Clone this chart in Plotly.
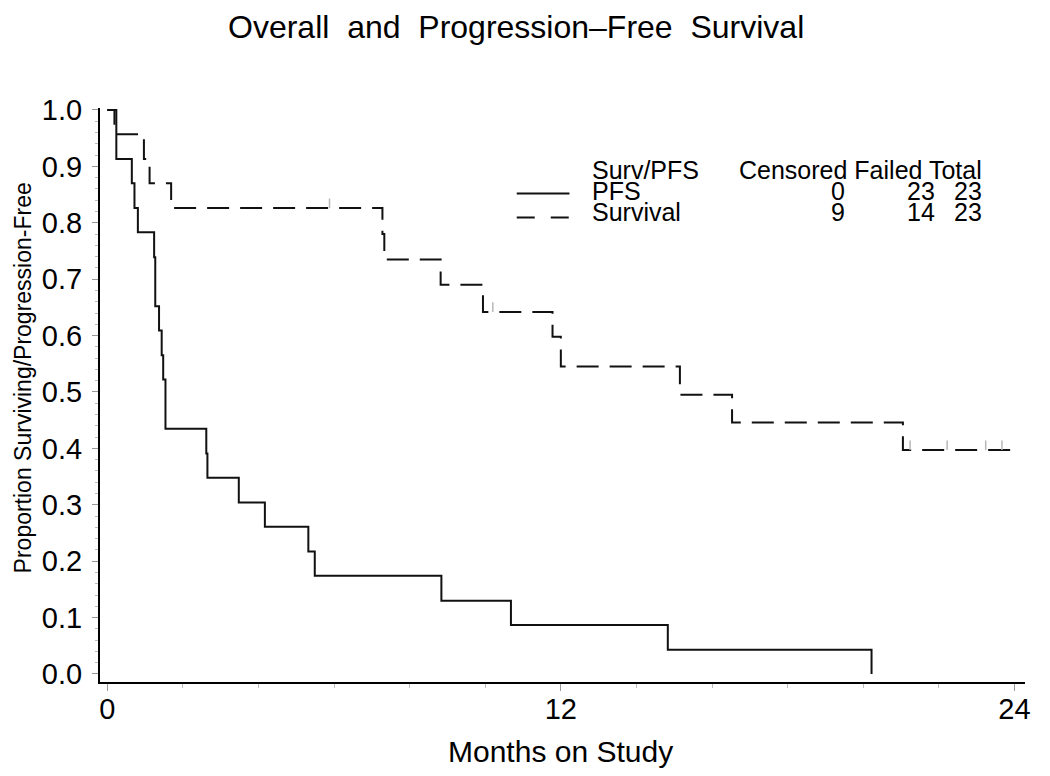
import plotly.graph_objects as go

# ---------------- data ----------------
pfs_time = [0, 0.24, 0.65, 0.72, 0.81, 1.24, 1.27, 1.37, 1.44, 1.48, 1.54,
            2.62, 2.65, 3.48, 4.17, 5.32, 5.49, 8.84, 10.68, 14.83, 20.22]
pfs_surv = [1.0, 0.913, 0.870, 0.826, 0.783, 0.739, 0.652, 0.609, 0.565, 0.522, 0.435,
            0.391, 0.348, 0.304, 0.261, 0.217, 0.174, 0.130, 0.087, 0.043, 0.0]

os_time = [0, 0.19, 0.97, 1.12, 1.69, 7.28, 7.33, 8.82, 9.94, 11.78, 12.0,
           15.15, 16.53, 21.05, 24.0]
os_surv = [1.0, 0.957, 0.913, 0.870, 0.826, 0.780, 0.735, 0.690, 0.642, 0.598, 0.545,
           0.495, 0.446, 0.397, 0.397]

os_cens_time = [5.88, 10.2, 21.24, 22.22, 23.24, 23.67]
os_cens_surv = [0.826, 0.642, 0.397, 0.397, 0.397, 0.397]

legend_groups = ["PFS", "Survival"]
legend_censored = [0, 9]
legend_failed = [23, 14]
legend_total = [23, 23]

x_ticks = [0, 12, 24]
y_ticks = [0.0, 0.1, 0.2, 0.3, 0.4, 0.5, 0.6, 0.7, 0.8, 0.9, 1.0]
y_ticktext = ["%.1f" % v for v in y_ticks]

# ---------------- layout geometry (page pixels) ----------------
OFF = 8                      # page body margin
W, H = 1034, 760             # figure size (fits inside the window)
L, R, T, B = 100, 1030, 108, 682   # plot area in page pixels


def px_x(px):
    return (px - L) / (R - L)


def px_y(py):
    return (B - py) / (B - T)


REG = "Liberation Sans, Arial, Helvetica, sans-serif"
INK = "#111111"

fig = go.Figure()

fig.add_trace(go.Scatter(
    x=pfs_time, y=pfs_surv, mode="lines", line_shape="hv",
    line=dict(color=INK, width=2), name="PFS", showlegend=False,
    hoverinfo="skip"))

fig.add_trace(go.Scatter(
    x=os_time, y=os_surv, mode="lines", line_shape="hv",
    line=dict(color=INK, width=2, dash="22px,11px"), name="Survival",
    showlegend=False, hoverinfo="skip"))

# censor marks: short upward ticks
fig.add_trace(go.Scatter(
    x=os_cens_time, y=os_cens_surv, mode="markers",
    marker=dict(size=1, color="rgba(0,0,0,0)"),
    error_y=dict(type="constant", value=0.017, valueminus=0, symmetric=False,
                 width=0, color="#b8b8b8", thickness=1.5),
    showlegend=False, hoverinfo="skip"))

ann = []
# title
ann.append(dict(text="Overall\u00a0 and\u00a0 Progression\u2013Free\u00a0 Survival",
                x=px_x(518), y=px_y(27), xref="paper", yref="paper",
                showarrow=False, xanchor="center", yanchor="middle",
                font=dict(family=REG, size=32, color="#000")))
# axis titles
ann.append(dict(text="Months on Study", x=px_x(563), y=px_y(751),
                xref="paper", yref="paper", showarrow=False,
                xanchor="center", yanchor="middle",
                font=dict(family=REG, size=30, color="#000")))
ann.append(dict(text="Proportion Surviving/Progression-Free", x=px_x(23), y=px_y(378),
                xref="paper", yref="paper", showarrow=False, textangle=-90,
                xanchor="center", yanchor="middle",
                font=dict(family=REG, size=23, color="#000")))

# legend table
LF = dict(family=REG, size=25, color="#000")
rows_y = [170, 191, 212]
ann.append(dict(text="Surv/PFS", x=px_x(593), y=px_y(rows_y[0]), xref="paper", yref="paper",
                showarrow=False, xanchor="left", yanchor="middle", font=LF))
ann.append(dict(text="Censored Failed Total", x=px_x(989), y=px_y(rows_y[0]),
                xref="paper", yref="paper", showarrow=False, xanchor="right",
                yanchor="middle", font=LF))
for i, g in enumerate(legend_groups):
    yy = px_y(rows_y[i + 1])
    ann.append(dict(text=g, x=px_x(593), y=yy, xref="paper", yref="paper",
                    showarrow=False, xanchor="left", yanchor="middle", font=LF))
    for val, xr in zip([legend_censored[i], legend_failed[i], legend_total[i]],
                       [851, 942, 989]):
        ann.append(dict(text=str(val), x=px_x(xr), y=yy, xref="paper", yref="paper",
                        showarrow=False, xanchor="right", yanchor="middle", font=LF))

shapes = [
    dict(type="line", xref="paper", yref="paper", x0=px_x(519), x1=px_x(572),
         y0=px_y(193.5), y1=px_y(193.5), line=dict(color=INK, width=2)),
    dict(type="line", xref="paper", yref="paper", x0=px_x(519), x1=px_x(572),
         y0=px_y(217.5), y1=px_y(217.5), line=dict(color=INK, width=2, dash="18px,16px")),
]

fig.update_layout(
    width=W, height=H,
    margin=dict(l=L - OFF, r=W - (R - OFF), t=T - OFF, b=H - (B - OFF), pad=0),
    paper_bgcolor="white", plot_bgcolor="white",
    annotations=ann, shapes=shapes, showlegend=False,
    xaxis=dict(range=[-0.192, 24.28], tickvals=x_ticks, ticktext=[str(v) for v in x_ticks],
               ticks="outside", ticklen=7, tickwidth=1, tickcolor="#999",
               minor=dict(tickvals=list(range(0, 25, 2)), ticks="outside", ticklen=4,
                          tickwidth=1, tickcolor="#bbb"),
               showline=True, linecolor="#000", linewidth=2, mirror=False,
               showgrid=False, zeroline=False,
               tickfont=dict(family=REG, size=29, color="#000"),
               ticklabelstandoff=-7),
    yaxis=dict(range=[-0.0142, 1.0035], tickvals=y_ticks, ticktext=y_ticktext,
               ticks="outside", ticklen=6, tickwidth=1, tickcolor="#999",
               minor=dict(dtick=0.02, tick0=0, ticks="outside", ticklen=3.5,
                          tickwidth=1, tickcolor="#bbb"),
               showline=True, linecolor="#000", linewidth=2,
               showgrid=False, zeroline=False,
               tickfont=dict(family=REG, size=29, color="#000"),
               ticklabelstandoff=4),
)

fig.write_html("out.html")
